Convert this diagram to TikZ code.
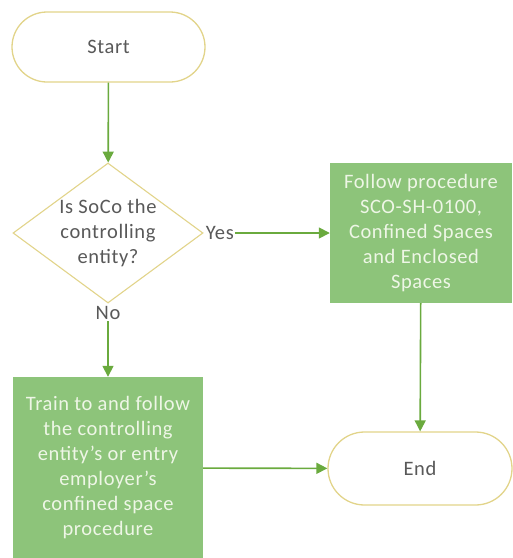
\documentclass[tikz,border=0pt]{standalone}
\usepackage{fontspec}
\setmainfont[LetterSpace=3]{Carlito}
\usetikzlibrary{shapes.misc,shapes.geometric,arrows.meta}

\definecolor{flowgreen}{HTML}{6AAA3E}
\definecolor{boxgreen}{HTML}{8DC47A}
\definecolor{termline}{HTML}{E2D48A}
\definecolor{inkgray}{HTML}{595959}
\definecolor{boxtext}{HTML}{EEF6E6}

\tikzset{
  terminal/.style={rounded rectangle, draw=termline, line width=1.3pt, fill=white,
    text=inkgray, inner sep=0pt},
  decision/.style={diamond, draw=termline, line width=1.1pt, fill=white, text=inkgray,
    inner sep=-9pt, minimum width=190pt, minimum height=140pt, align=center},
  process/.style={rectangle, fill=boxgreen, text=boxtext, inner sep=0pt, align=center},
  flow/.style={draw=flowgreen, line width=1.6pt, -{Triangle[length=11pt,width=11pt]}},
  answer/.style={fill=white, text=inkgray, inner sep=1.5pt}
}

\begin{document}
\begin{tikzpicture}[x=1pt,y=-1pt,font=\fontsize{20.5}{25}\selectfont]
  \useasboundingbox (0,0) rectangle (513,558);

  \node[terminal, minimum width=193pt, minimum height=70pt] (start) at (108.5,47) {Start};
  \node[decision] (check) at (108,233) {Is SoCo the\\controlling\\entity?};
  \node[process, minimum width=182pt, minimum height=140pt] (follow) at (421,233)
    {Follow procedure\\SCO-SH-0100,\\Confined Spaces\\and Enclosed\\Spaces};
  \node[process, minimum width=190pt, minimum height=182pt] (train) at (108,468)
    {Train to and follow\\the controlling\\entity's or entry\\employer's\\confined space\\procedure};
  \node[terminal, minimum width=184pt, minimum height=73pt] (end) at (420,468.5) {End};

  \draw[flow] (start) -- (check);
  \draw[flow] (check.east) -- node[answer, pos=0, anchor=west] {Yes} (follow.west);
  \draw[flow] (check.south) -- node[answer, pos=0, anchor=north] {No} (train.north);
  \draw[flow] (follow) -- (end);
  \draw[flow] (train) -- (end);
\end{tikzpicture}
\end{document}
